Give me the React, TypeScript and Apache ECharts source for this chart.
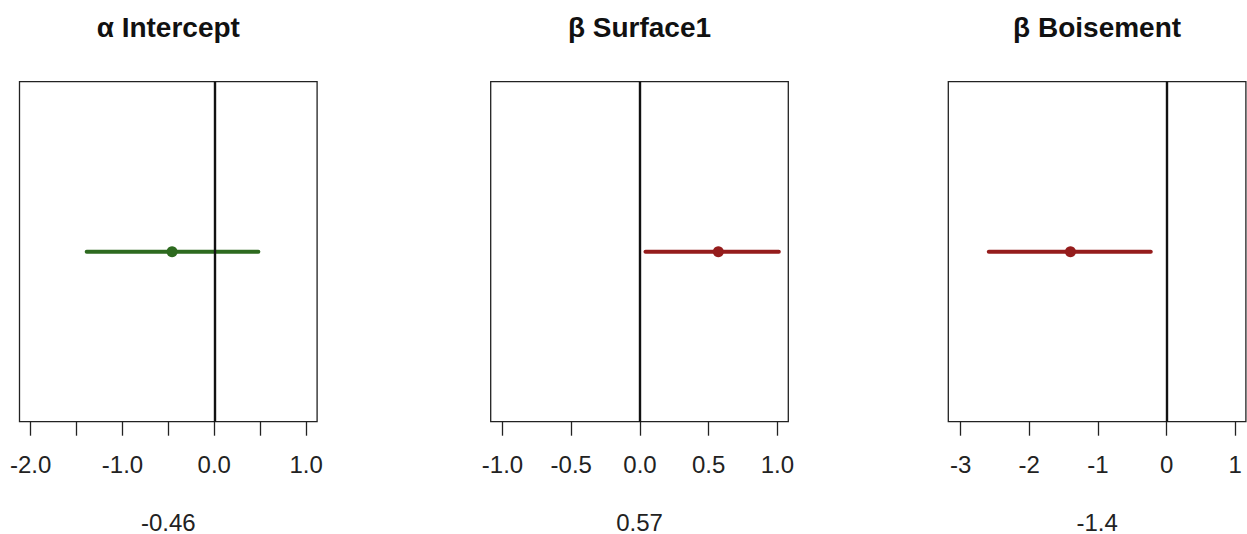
import React, { useEffect, useRef } from "react";
import * as echarts from "echarts";

const titles = ["α Intercept", "β Surface1", "β Boisement"];
const estimates = [-0.46, 0.57, -1.4];
const lowers = [-1.39, 0.04, -2.59];
const uppers = [0.48, 1.01, -0.23];
const lineColors = ["#2D6A1F", "#951C1C", "#951C1C"];
const axisMins = [-2.122, -1.086, -3.18];
const axisMaxs = [1.12, 1.079, 1.156];
const tickValues = [
  [-2, -1.5, -1, -0.5, 0, 0.5, 1],
  [-1, -0.5, 0, 0.5, 1],
  [-3, -2, -1, 0, 1],
];
const labelValues = [
  [-2, -1, 0, 1],
  [-1, -0.5, 0, 0.5, 1],
  [-3, -2, -1, 0, 1],
];
const labelDecimals = [1, 1, 0];
const bottomLabels = ["-0.46", "0.57", "-1.4"];

const gridLefts = [19.5, 490.7, 948.3];
const gridWidth = 297.6;
const gridTop = 81.7;
const gridHeight = 340;

export default function App() {
  const ref = useRef<HTMLDivElement>(null);
  useEffect(() => {
    if (!ref.current) return;
    const chart = echarts.init(ref.current, null, { renderer: "svg" });
    const font = "'Liberation Sans', Arial, Helvetica, sans-serif";
    const grids: any[] = [];
    const xAxes: any[] = [];
    const yAxes: any[] = [];
    const series: any[] = [];
    const graphics: any[] = [];
    titles.forEach((t, i) => {
      grids.push({
        left: gridLefts[i],
        top: gridTop,
        width: gridWidth,
        height: gridHeight,
        show: true,
        borderColor: "#222",
        borderWidth: 1.3,
        backgroundColor: "transparent",
      });
      const dec = labelDecimals[i];
      xAxes.push({
        type: "value",
        gridIndex: i,
        min: axisMins[i],
        max: axisMaxs[i],
        position: "bottom",
        axisLine: { show: false },
        splitLine: { show: false },
        axisTick: {
          show: true,
          customValues: tickValues[i],
          length: 14,
          lineStyle: { color: "#222", width: 1.3 },
        },
        axisLabel: {
          show: true,
          customValues: labelValues[i],
          formatter: (v: number) => v.toFixed(dec),
          color: "#222",
          fontSize: 24,
          fontFamily: font,
          margin: 31,
        },
      });
      yAxes.push({
        type: "value",
        gridIndex: i,
        min: 0,
        max: 1,
        show: false,
      });
      series.push({
        type: "line",
        xAxisIndex: i,
        yAxisIndex: i,
        data: [
          [lowers[i], 0.5],
          [uppers[i], 0.5],
        ],
        symbol: "none",
        lineStyle: { color: lineColors[i], width: 4, cap: "round" },
        z: 3,
        markLine: {
          silent: true,
          symbol: "none",
          label: { show: false },
          lineStyle: { color: "#111", width: 2.4, type: "solid" },
          data: [{ xAxis: 0 }],
        },
      });
      series.push({
        type: "scatter",
        xAxisIndex: i,
        yAxisIndex: i,
        data: [[estimates[i], 0.5]],
        symbol: "circle",
        symbolSize: 11,
        itemStyle: { color: lineColors[i], opacity: 1 },
        z: 4,
      });
      graphics.push({
        type: "text",
        x: gridLefts[i] + gridWidth / 2,
        y: 27,
        style: {
          text: t,
          fontSize: 28,
          fontWeight: "bold",
          fontFamily: font,
          fill: "#111",
          align: "center",
          verticalAlign: "middle",
        },
      });
      graphics.push({
        type: "text",
        x: gridLefts[i] + gridWidth / 2,
        y: 522,
        style: {
          text: bottomLabels[i],
          fontSize: 24,
          fontFamily: font,
          fill: "#222",
          align: "center",
          verticalAlign: "middle",
        },
      });
    });
    chart.setOption({
      animation: false,
      backgroundColor: "#fff",
      grid: grids,
      xAxis: xAxes,
      yAxis: yAxes,
      series,
      graphic: graphics,
    });
    return () => chart.dispose();
  }, []);
  return (
    <div
      ref={ref}
      style={{ position: "fixed", left: 0, top: 0, width: 1247, height: 534 }}
    />
  );
}
